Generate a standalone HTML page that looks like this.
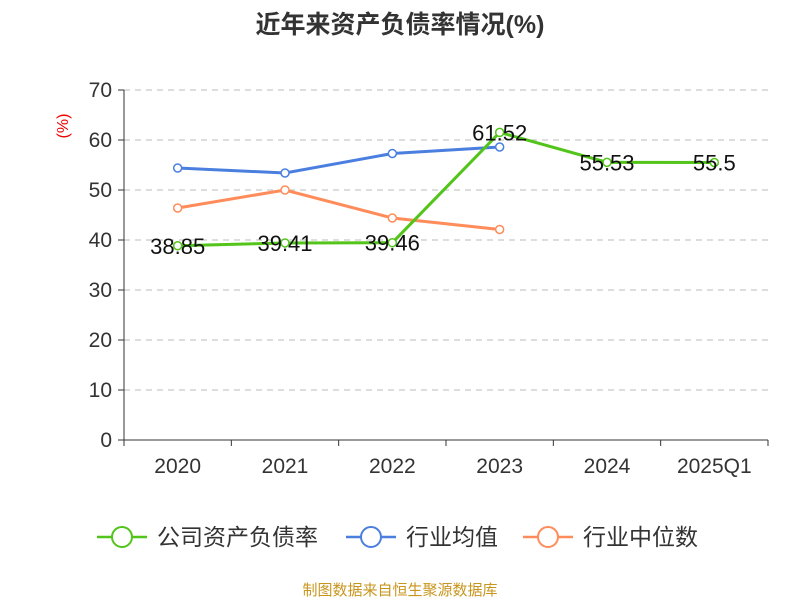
<!DOCTYPE html>
<html><head><meta charset="utf-8"><style>
body{margin:0;background:#fff;}
svg text{font-family:"Liberation Sans","Noto Sans CJK SC",sans-serif;}
</style></head><body>
<svg width="800" height="600">
<text x="400" y="33" text-anchor="middle" font-size="25" font-weight="bold" fill="#333">近年来资产负债率情况(%)</text>
<text x="68" y="126" text-anchor="middle" font-size="16" fill="#e00" transform="rotate(-90 68 126)">(%)</text>
<g id="grid"></g><g id="axes"></g><g id="series"></g>
<g>
<g><line x1="97" y1="537" x2="147" y2="537" stroke="#52c41a" stroke-width="2.5"/><circle cx="122" cy="537" r="10" fill="#fff" stroke="#52c41a" stroke-width="2"/><text x="157" y="545" font-size="23" fill="#333">公司资产负债率</text></g>
<g><line x1="346" y1="537" x2="396" y2="537" stroke="#4a7fe0" stroke-width="2.5"/><circle cx="371" cy="537" r="10" fill="#fff" stroke="#4a7fe0" stroke-width="2"/><text x="406" y="545" font-size="23" fill="#333">行业均值</text></g>
<g><line x1="523" y1="537" x2="573" y2="537" stroke="#ff8c5a" stroke-width="2.5"/><circle cx="548" cy="537" r="10" fill="#fff" stroke="#ff8c5a" stroke-width="2"/><text x="583" y="545" font-size="23" fill="#333">行业中位数</text></g>
</g>
<text x="400" y="595" text-anchor="middle" font-size="15" fill="#c8961e">制图数据来自恒生聚源数据库</text>
</svg>
<script>
const categories=["2020","2021","2022","2023","2024","2025Q1"];
const yTicks=[0,10,20,30,40,50,60,70];
const companyValues=[38.85,39.41,39.46,61.52,55.53,55.5];
const companyLabels=["38.85","39.41","39.46","61.52","55.53","55.5"];
const industryAvg=[54.4,53.4,57.3,58.6];
const industryMedian=[46.4,50.0,44.4,42.1];
const NS="http://www.w3.org/2000/svg";
const L=124,R=768,T=90,B=440,yMax=70;
const step=(R-L)/categories.length;
const xs=i=>L+step*(i+0.5);
const ys=v=>B-(v/yMax)*(B-T);
function mk(tag,attrs,parent){const e=document.createElementNS(NS,tag);for(const k in attrs)e.setAttribute(k,attrs[k]);parent.appendChild(e);return e;}
const grid=document.getElementById('grid'),axes=document.getElementById('axes'),ser=document.getElementById('series');
yTicks.forEach(t=>{
 if(t>0){const g=mk('line',{x1:L,x2:R,y1:ys(t),y2:ys(t),stroke:'#bbb','stroke-dasharray':'6,5'},grid);
 
 }
 const tk=mk('line',{x1:L-6,x2:L,y1:ys(t),y2:ys(t),stroke:'#333'},axes);
 
 
 const tx=mk('text',{x:L-12,y:ys(t)+7,'text-anchor':'end','font-size':21,fill:'#333'},axes);tx.textContent=t;
 
 
});
const ya=mk('line',{x1:L,x2:L,y1:T,y2:B,stroke:'#333'},axes);


const xa=mk('line',{x1:L,x2:R,y1:B,y2:B,stroke:'#333'},axes);


for(let i=0;i<=categories.length;i++){const t=mk('line',{x1:L+step*i,x2:L+step*i,y1:B,y2:B+6,stroke:'#333'},axes);
 
 }
categories.forEach((c,i)=>{const t=mk('text',{x:xs(i),y:B+33,'text-anchor':'middle','font-size':21,fill:'#333'},axes);t.textContent=c;
 
 });
function series(vals,color,name){
 const p=mk('polyline',{points:vals.map((v,i)=>xs(i)+','+ys(v)).join(' '),fill:'none',stroke:color,'stroke-width':3},ser);
 
 
 vals.forEach((v,i)=>{const c=mk('circle',{cx:xs(i),cy:ys(v),r:4,fill:'#fff',stroke:color,'stroke-width':1.5},ser);
 
 });
}
series(industryAvg,'#4a7fe0','industry-avg');
series(industryMedian,'#ff8c5a','industry-median');
series(companyValues,'#52c41a','company');
companyValues.forEach((v,i)=>{const t=mk('text',{x:xs(i),y:ys(v)+8,'text-anchor':'middle','font-size':22,fill:'#111'},ser);t.textContent=companyLabels[i];
 
 });
</script>
</body></html>
